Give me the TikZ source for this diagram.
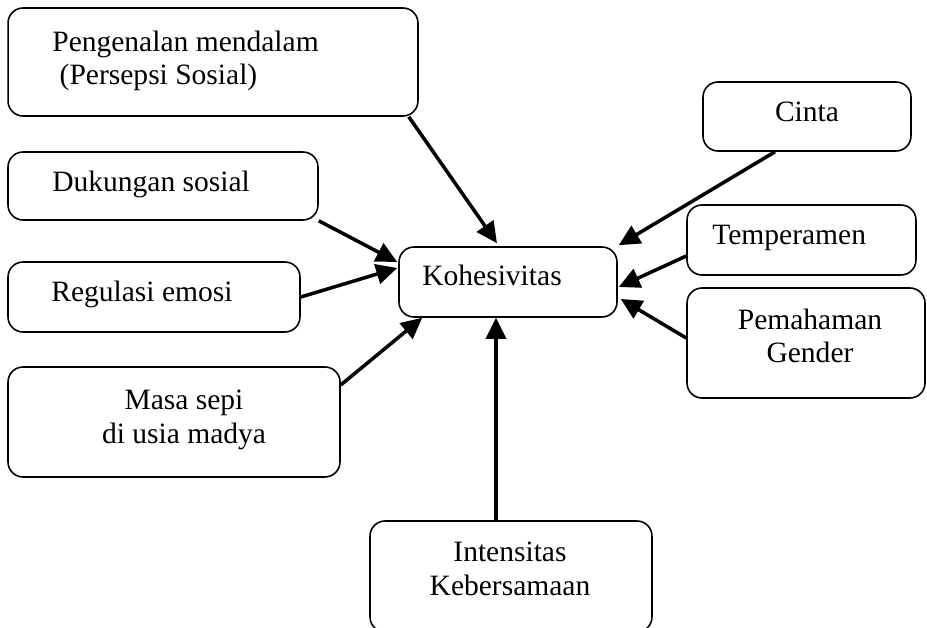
\documentclass[tikz,border=0pt]{standalone}
\usepackage{fontspec}
\setmainfont{Liberation Serif}
\usetikzlibrary{arrows.meta,calc}

\tikzset{
  kotak/.style={draw, line width=0.9pt, rounded corners=0.3cm, inner sep=0pt},
  teks/.style={inner sep=0pt, font=\fontsize{16.8}{18.8}\selectfont},
  panah/.style={line width=2pt, -{Triangle[length=0.42cm,width=0.4cm]}}
}

\begin{document}
\begin{tikzpicture}[x=0.02cm, y=-0.02cm]
\useasboundingbox (0,0) rectangle (927,628);

% kotak-kotak
\node[kotak, minimum width=8.2cm, minimum height=2.16cm] (peng) at (213,62) {};
\node[kotak, minimum width=6.2cm, minimum height=1.36cm] (duk) at (163,186) {};
\node[kotak, minimum width=5.84cm, minimum height=1.4cm] (reg) at (154,297) {};
\node[kotak, minimum width=6.64cm, minimum height=2.2cm] (masa) at (174,422) {};
\node[kotak, minimum width=4.36cm, minimum height=1.4cm] (kohes) at (508,282) {};
\node[kotak, minimum width=4.16cm, minimum height=1.38cm] (cinta) at (807,116.5) {};
\node[kotak, minimum width=4.58cm, minimum height=1.4cm] (temper) at (801.5,240) {};
\node[kotak, minimum width=4.76cm, minimum height=2.2cm] (pemah) at (806,343) {};
\node[kotak, minimum width=5.64cm, minimum height=2.22cm] (inten) at (511,576.5) {};

% teks (baris terakhir sebagai acuan base)
\node[teks, anchor=base west, align=left] (peng-t) at (52,85)
  {Pengenalan mendalam\\~(Persepsi Sosial)};
\node[teks, anchor=base west] (duk-t) at (52,192) {Dukungan sosial};
\node[teks, anchor=base west] (reg-t) at (51,302) {Regulasi emosi};
\node[teks, anchor=base, align=center] (masa-t) at (184,443) {Masa sepi\\di usia madya};
\node[teks, anchor=base west] (kohes-t) at (422,286) {Kohesivitas};
\node[teks, anchor=base] (cinta-t) at (807,122) {Cinta};
\node[teks, anchor=base west] (temper-t) at (712,245) {Temperamen};
\node[teks, anchor=base, align=center] (pemah-t) at (810,363) {Pemahaman\\Gender};
\node[teks, anchor=base, align=center] (inten-t) at (510,595) {Intensitas\\Kebersamaan};

% panah ke kohesivitas
\draw[panah] ($(peng.south east)+(-10,0)$) -- ($(kohes.north)+(-11,-3)$);
\draw[panah] (duk.south east) -- ($(kohes.west)+(-1,-20)$);
\draw[panah] (reg.east) -- ($(kohes.west)+(-1,-14)$);
\draw[panah] ($(masa.east)+(0,-37)$) -- ($(kohes.south west)+(24,0)$);
\draw[panah] ($(inten.north)+(-15,0)$) -- ($(kohes.south)+(-12,0)$);
\draw[panah] ($(cinta.south)+(-32,0)$) -- ($(kohes.north east)+(1,-1)$);
\draw[panah] ($(temper.west)+(0,16)$) -- ($(kohes.east)+(1,5)$);
\draw[panah] ($(pemah.west)+(0,-5)$) -- ($(kohes.east)+(3,17)$);

\end{tikzpicture}
\end{document}
